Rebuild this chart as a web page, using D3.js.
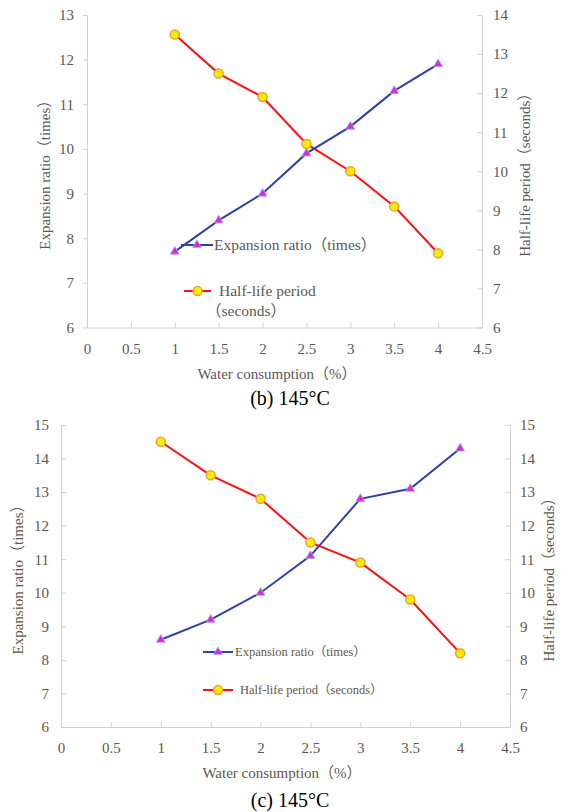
<!DOCTYPE html>
<html>
<head>
<meta charset="utf-8">
<script src="https://cdn.jsdelivr.net/npm/d3@7"></script>
<style>
  body { margin: 0; background: #fff; }
  svg text { font-family: "Liberation Serif", "Noto Sans CJK SC", serif; }
</style>
</head>
<body>
<div id="chart"></div>
<script>
/* Two dual-axis line charts: expansion ratio vs half-life by water consumption */

const waterPct = [1, 1.5, 2, 2.5, 3, 3.5, 4];
const xTicks = [0, 0.5, 1, 1.5, 2, 2.5, 3, 3.5, 4, 4.5];

// panel (b)
const expansionB = [7.7, 8.4, 9.0, 9.9, 10.5, 11.3, 11.9];
const halfLifeB = [13.5, 12.5, 11.9, 10.7, 10.0, 9.1, 7.9];
const leftTicksB = [6, 7, 8, 9, 10, 11, 12, 13];
const rightTicksB = [6, 7, 8, 9, 10, 11, 12, 13, 14];

// panel (c)
const expansionC = [8.6, 9.2, 10.0, 11.1, 12.8, 13.1, 14.3];
const halfLifeC = [14.5, 13.5, 12.8, 11.5, 10.9, 9.8, 8.2];
const leftTicksC = [6, 7, 8, 9, 10, 11, 12, 13, 14, 15];
const rightTicksC = [6, 7, 8, 9, 10, 11, 12, 13, 14, 15];

const width = 561, height = 812;

const svg = d3.select("#chart")
    .append("svg")
    .attr("width", width)
    .attr("height", height)
    .attr("viewBox", [0, 0, width, height]);

const plain = d3.format("");

function drawPanel(p) {
    const g = svg.append("g");

    const x = d3.scaleLinear().domain([0, 4.5]).range([p.left, p.right]);
    const yL = d3.scaleLinear().domain(d3.extent(p.leftTicks)).range([p.bottom, p.top]);
    const yR = d3.scaleLinear().domain(d3.extent(p.rightTicks)).range([p.bottom, p.top]);

    const styleAxis = a => {
        a.select(".domain").attr("stroke", "#d0d0d0");
        a.selectAll(".tick line").attr("stroke", "#d0d0d0");
        a.selectAll(".tick text")
            .attr("fill", p.textColor)
            .style("font-size", "15px");
    };

    g.append("g")
        .attr("transform", `translate(0,${p.bottom})`)
        .call(d3.axisBottom(x).tickValues(xTicks).tickFormat(plain).tickSize(-5).tickSizeOuter(0).tickPadding(p.xPad))
        .call(styleAxis);

    g.append("g")
        .attr("transform", `translate(${p.left},0)`)
        .call(d3.axisLeft(yL).tickValues(p.leftTicks).tickFormat(plain).tickSize(p.leftTick).tickSizeOuter(0).tickPadding(p.leftPad))
        .call(styleAxis);

    g.append("g")
        .attr("transform", `translate(${p.right},0)`)
        .call(d3.axisRight(yR).tickValues(p.rightTicks).tickFormat(plain).tickSize(-5).tickSizeOuter(0).tickPadding(p.rightPad))
        .call(styleAxis);

    const expLine = d3.line().x((d, i) => x(waterPct[i])).y(d => yL(d));
    const halfLine = d3.line().x((d, i) => x(waterPct[i])).y(d => yR(d));

    // legend (drawn first so data sits on top like the original)
    const leg = g.append("g");
    leg.append("line")
        .attr("x1", p.leg1[0]).attr("x2", p.leg1[1]).attr("y1", p.leg1[2]).attr("y2", p.leg1[2])
        .attr("stroke", "#3040a8").attr("stroke-width", 2);
    leg.append("path")
        .attr("d", d3.symbol(d3.symbolTriangle, 34)())
        .attr("transform", `translate(${(p.leg1[0] + p.leg1[1]) / 2},${p.leg1[2]})`)
        .attr("fill", "#e025d8").attr("stroke", "#8fb0f0").attr("stroke-width", 0.8);
    leg.append("text")
        .attr("x", p.leg1[3]).attr("y", p.leg1[2]).attr("dy", "0.35em")
        .attr("fill", p.textColor).style("font-size", p.legSize + "px")
        .text("Expansion ratio（times）");

    leg.append("line")
        .attr("x1", p.leg2[0]).attr("x2", p.leg2[1]).attr("y1", p.leg2[2]).attr("y2", p.leg2[2])
        .attr("stroke", "#ff1010").attr("stroke-width", 2);
    leg.append("circle")
        .attr("cx", (p.leg2[0] + p.leg2[1]) / 2).attr("cy", p.leg2[2]).attr("r", 4.5)
        .attr("fill", "#ffee00").attr("stroke", "#f0a030").attr("stroke-width", 1.5);
    p.leg2Text.forEach((t, i) => {
        leg.append("text")
            .attr("x", p.leg2[3 + i * 2]).attr("y", p.leg2[4 + i * 2]).attr("dy", "0.35em")
            .attr("fill", p.textColor).style("font-size", p.legSize + "px")
            .text(t);
    });

    g.append("path")
        .attr("d", halfLine(p.half))
        .attr("fill", "none").attr("stroke", "#ff1010").attr("stroke-width", 2);
    g.append("path")
        .attr("d", expLine(p.exp))
        .attr("fill", "none").attr("stroke", "#3040a8").attr("stroke-width", 2);

    g.selectAll(".tri")
        .data(p.exp)
        .join("path")
        .attr("d", d3.symbol(d3.symbolTriangle, 34)())
        .attr("transform", (d, i) => `translate(${x(waterPct[i])},${yL(d)})`)
        .attr("fill", "#e025d8").attr("stroke", "#8fb0f0").attr("stroke-width", 0.8);

    g.selectAll(".dot")
        .data(p.half)
        .join("circle")
        .attr("cx", (d, i) => x(waterPct[i]))
        .attr("cy", d => yR(d))
        .attr("r", 4.5)
        .attr("fill", "#ffee00").attr("stroke", "#f0a030").attr("stroke-width", 1.5);

    const midY = (p.top + p.bottom) / 2;
    g.append("text")
        .attr("transform", `translate(${p.leftTitleX},${midY}) rotate(-90)`)
        .attr("text-anchor", "middle").attr("dy", "0.35em")
        .attr("fill", p.textColor).style("font-size", "15px")
        .text("Expansion ratio（times）");
    g.append("text")
        .attr("transform", `translate(${p.rightTitleX},${midY}) rotate(-90)`)
        .attr("text-anchor", "middle").attr("dy", "0.35em")
        .attr("fill", p.textColor).style("font-size", "15px")
        .text("Half-life period（seconds）");
    g.append("text")
        .attr("x", p.xTitleX).attr("y", p.xTitleY).attr("dy", "0.35em")
        .attr("text-anchor", "middle")
        .attr("fill", p.textColor).style("font-size", "15px")
        .text("Water consumption（%）");
    g.append("text")
        .attr("x", 290).attr("y", p.captionY).attr("dy", "0.35em")
        .attr("text-anchor", "middle")
        .attr("fill", "#000").style("font-size", "20px")
        .text(p.caption);
}

drawPanel({
    left: 87, right: 482, top: 15, bottom: 327.5,
    leftTicks: leftTicksB, rightTicks: rightTicksB,
    exp: expansionB, half: halfLifeB,
    leftTick: 4, leftPad: 9, rightPad: 11, xPad: 16,
    textColor: "#595959", legSize: 15.5,
    leg1: [181, 213, 245, 214],
    leg2: [184, 211, 291, 219, 291, 206, 311],
    leg2Text: ["Half-life period", "（seconds）"],
    leftTitleX: 45, rightTitleX: 525,
    xTitleX: 277, xTitleY: 374,
    captionY: 398, caption: "(b) 145°C"
});

drawPanel({
    left: 61, right: 510, top: 425, bottom: 727,
    leftTicks: leftTicksC, rightTicks: rightTicksC,
    exp: expansionC, half: halfLifeC,
    leftTick: -5, leftPad: 12, rightPad: 10, xPad: 15.5,
    textColor: "#64564a", legSize: 12.5,
    leg1: [203, 233, 652, 235],
    leg2: [203, 233, 690, 240, 690],
    leg2Text: ["Half-life period（seconds）"],
    leftTitleX: 18, rightTitleX: 549,
    xTitleX: 282, xTitleY: 773,
    captionY: 800, caption: "(c) 145°C"
});
</script>
</body>
</html>
